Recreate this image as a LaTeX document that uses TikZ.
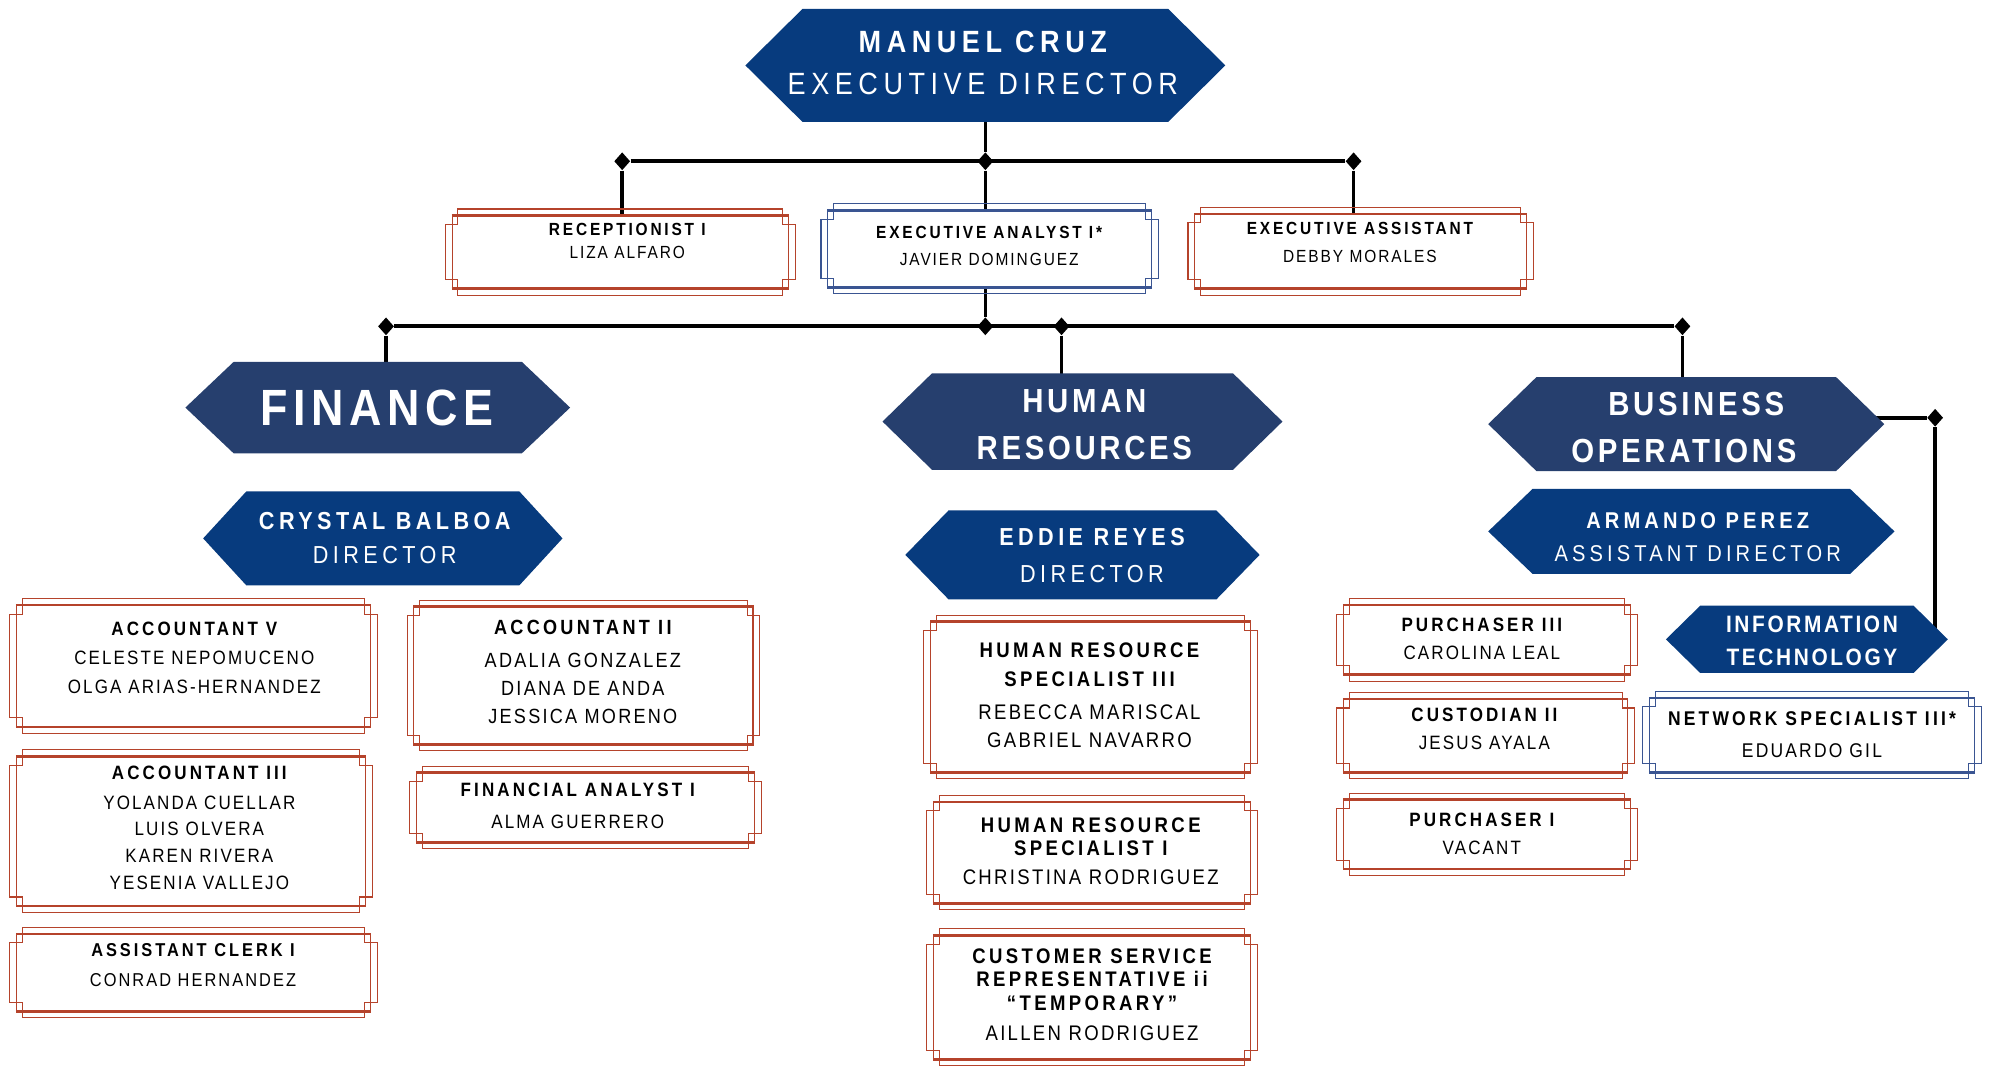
\documentclass[tikz,border=0pt]{standalone}
\usepackage{fontspec}
\setmainfont{Liberation Sans}
\newfontfamily\namefont[FakeStretch=0.88,LetterSpace=11]{Liberation Sans}
\newfontfamily\titlefont[FakeStretch=0.88,LetterSpace=16]{Liberation Sans Bold}
\newfontfamily\hexfont[FakeStretch=0.88,LetterSpace=18]{Liberation Sans}
\newfontfamily\hexbold[FakeStretch=0.88,LetterSpace=18]{Liberation Sans Bold}
\newfontfamily\deptfont[FakeStretch=0.88,LetterSpace=11]{Liberation Sans Bold}
\usetikzlibrary{shapes.geometric, fit, backgrounds}
\definecolor{bred}{HTML}{B5432B}
\definecolor{bblue}{HTML}{3A5592}
\definecolor{deptblue}{HTML}{263F6E}
\definecolor{headblue}{HTML}{073B7E}
\newcommand\ti[1]{{\titlefont #1}}
\newcommand\hb[1]{{\hexbold #1}}
% hexagon: centre x, centre y, half width, half height, point depth, colour
\newcommand\hexa[6]{\fill[#6] ({#1-#3},#2) -- ({#1-#3+#5},{#2-#4}) -- ({#1+#3-#5},{#2-#4}) -- ({#1+#3},#2) -- ({#1+#3-#5},{#2+#4}) -- ({#1-#3+#5},{#2+#4}) -- cycle;}

\begin{document}
\begin{tikzpicture}[x=0.254mm, y=-0.254mm,
    link/.style={line width=2.1pt},
    joint/.style={diamond, fill=black, inner sep=0pt, minimum width=3.2mm, minimum height=3.6mm},
    cardbox/.style={draw=#1, line width=.6pt, inner sep=0pt},
    txt/.style 2 args={font=\namefont\fontsize{#1}{#2}\selectfont, align=center, inner sep=0pt},
    hextxt/.style 2 args={text=white, font=\hexfont\fontsize{#1}{#2}\selectfont, align=center, inner sep=0pt}]
    \useasboundingbox (0,0) rectangle (1568,841);

    % hexagons
    \hexa{776}{51.5}{189}{44.5}{45}{headblue}
    \hexa{297.5}{321}{151.5}{36}{38}{deptblue}
    \hexa{301.5}{424}{141.5}{37}{34}{headblue}
    \hexa{852.5}{332}{157.5}{38}{39}{deptblue}
    \hexa{852.5}{437}{139.5}{35}{34}{headblue}
    \hexa{1328}{334}{156}{37}{38}{deptblue}
    \hexa{1332}{418.5}{160}{33.5}{35}{headblue}
    \hexa{1423}{503.5}{111}{26.5}{27}{headblue}

    \node[hextxt={17.5}{24}] (mc) at (774,49.5) {\hb{MANUEL CRUZ}\\EXECUTIVE DIRECTOR};
    \node[hextxt={29}{30}, font=\deptfont\fontsize{29}{30}\selectfont] (fin) at (297,321) {FINANCE};
    \node[hextxt={14}{19.5}] (cb) at (303,423.5) {\hb{CRYSTAL BALBOA}\\DIRECTOR};
    \node[hextxt={19}{26.8}, font=\deptfont\fontsize{19}{26.8}\selectfont] (hr) at (854,334.5) {HUMAN\\RESOURCES};
    \node[hextxt={14}{21}] (er) at (860,437.5) {\hb{EDDIE REYES}\\DIRECTOR};
    \node[hextxt={19}{26.8}, font=\deptfont\fontsize{19}{26.8}\selectfont] (bo) at (1331,336.5) {\hspace*{7pt}BUSINESS\\OPERATIONS\hspace*{7pt}};
    \node[hextxt={13}{18.8}] (ap) at (1337,423) {\hb{ARMANDO PEREZ}\\ASSISTANT DIRECTOR};
    \node[hextxt={13.5}{18.8}, font=\deptfont\fontsize{13.5}{18.8}\selectfont] (it) at (1427,505) {INFORMATION\\TECHNOLOGY};

    % boxes
    \node[txt={10}{13}] (rec) at (494,190) {\ti{RECEPTIONIST I}\\LIZA ALFARO};
    \node[txt={10}{15.2}] (ana) at (779,193.5) {\ti{EXECUTIVE ANALYST I*}\\JAVIER DOMINGUEZ};
    \node[txt={10}{16}] (ea) at (1071,191) {\ti{EXECUTIVE ASSISTANT}\\DEBBY MORALES};
    \node[txt={11}{16.6}] (a5) at (153,518) {\ti{ACCOUNTANT V}\\CELESTE NEPOMUCENO\\OLGA ARIAS-HERNANDEZ};
    \node[txt={11.7}{15.9}] (a2) at (459,529) {\ti{ACCOUNTANT II}\\[2.9pt]ADALIA GONZALEZ\\DIANA DE ANDA\\JESSICA MORENO};
    \node[txt={11}{15.2}] (a3) at (157,652) {\ti{ACCOUNTANT III}\\[1.5pt]YOLANDA CUELLAR\\LUIS OLVERA\\KAREN RIVERA\\YESENIA VALLEJO};
    \node[txt={11}{18}] (fa) at (455,634.5) {\ti{FINANCIAL ANALYST I}\\ALMA GUERRERO};
    \node[txt={10.6}{17.4}] (ac) at (152,760) {\ti{ASSISTANT CLERK I}\\CONRAD HERNANDEZ};
    \node[txt={12}{16}] (hr3) at (858,547.5) {\ti{HUMAN RESOURCE}\\[.6pt]\ti{SPECIALIST III}\\[2.8pt]REBECCA MARISCAL\\GABRIEL NAVARRO};
    \node[txt={12}{13}] (hr1) at (859,670.5) {\ti{HUMAN RESOURCE}\\\ti{SPECIALIST I}\\[3.6pt]CHRISTINA RODRIGUEZ};
    \node[txt={12}{13.3}] (csr) at (860,783.5) {\ti{CUSTOMER SERVICE}\\\ti{REPRESENTATIVE ii}\\\ti{“TEMPORARY”}\\[4pt]AILLEN RODRIGUEZ};
    \node[txt={11}{16}] (p3) at (1167,503) {\ti{PURCHASER III}\\CAROLINA LEAL};
    \node[txt={11}{16}] (c2) at (1169,574) {\ti{CUSTODIAN II}\\JESUS AYALA};
    \node[txt={11}{16}] (p1) at (1167,657) {\ti{PURCHASER I}\\VACANT};
    \node[txt={11.3}{18}] (ns) at (1427,578.5) {\ti{NETWORK SPECIALIST III*}\\EDUARDO GIL};

    \node[cardbox=bred, fit={(356,170) (621,227)}] (recF) {};
    \node[cardbox=bblue, fit={(652,166) (907,226)}] (anaF) {};
    \node[cardbox=bred, fit={(941,169) (1202,227)}] (eaF) {};
    \node[cardbox=bred, fit={(13,477) (292,572)}] (a5F) {};
    \node[cardbox=bred, fit={(326,478) (593,586)}] (a2F) {};
    \node[cardbox=bred, fit={(13,596) (288,713)}] (a3F) {};
    \node[cardbox=bred, fit={(328,609) (594,663)}] (faF) {};
    \node[cardbox=bred, fit={(13,736) (292,796)}] (acF) {};
    \node[cardbox=bred, fit={(733,490) (985,608)}] (hr3F) {};
    \node[cardbox=bred, fit={(735,632) (985,711)}] (hr1F) {};
    \node[cardbox=bred, fit={(735,737) (985,834)}] (csrF) {};
    \node[cardbox=bred, fit={(1058,477) (1284,531)}] (p3F) {};
    \node[cardbox=bred, fit={(1058,551) (1282,608)}] (c2F) {};
    \node[cardbox=bred, fit={(1058,630) (1284,684)}] (p1F) {};
    \node[cardbox=bblue, fit={(1299,550) (1555,608)}] (nsF) {};

    \foreach \n/\c in {recF/bred, anaF/bblue, eaF/bred, a5F/bred, a2F/bred, a3F/bred, faF/bred, acF/bred,
                       hr3F/bred, hr1F/bred, csrF/bred, p3F/bred, c2F/bred, p1F/bred, nsF/bblue} {
        \draw[\c, line width=1.5pt] (\n.north west) -- (\n.north east) (\n.south west) -- (\n.south east);
        \draw[\c, line width=.6pt] ([shift={(5,-5)}]\n.north west) -- ([shift={(-5,-5)}]\n.north east)
            -- ([shift={(-5,7)}]\n.north east) -- ([shift={(5,7)}]\n.north east)
            -- ([shift={(5,-7)}]\n.south east) -- ([shift={(-5,-7)}]\n.south east)
            -- ([shift={(-5,5)}]\n.south east) -- ([shift={(5,5)}]\n.south west)
            -- ([shift={(5,-7)}]\n.south west) -- ([shift={(-5,-7)}]\n.south west)
            -- ([shift={(-5,7)}]\n.north west) -- ([shift={(5,7)}]\n.north west) -- cycle;
    }

    % junctions
    \node[joint] (j1) at (776,127) {};
    \node[joint] (j1a) at (490,127) {};
    \node[joint] (j1b) at (1066,127) {};
    \node[joint] (j2) at (776,257) {};
    \node[joint] (j2f) at (304,257) {};
    \node[joint] (j2h) at (836,257) {};
    \node[joint] (j2b) at (1325,257) {};
    \node[joint] (j3) at (1524,329) {};

    \begin{pgfonlayer}{background}
        \draw[link] (j1 |- mc) -- (j1);
        \draw[link] (j1a) -- (j1b);
        \draw[link] (j1a) -- (j1a |- recF.north);
        \draw[link] (j1) -- (j1 |- anaF.north);
        \draw[link] (j1b) -- (j1b |- eaF.north);
        \draw[link] (j2 |- anaF.south) -- (j2);
        \draw[link] (j2f) -- (j2b);
        \draw[link] (j2f) -- (j2f |- fin);
        \draw[link] (j2h) -- (j2h |- hr);
        \draw[link] (j2b) -- (j2b |- bo);
        \draw[link] (j3 -| bo) -- (j3) -- (j3 |- it);
    \end{pgfonlayer}
\end{tikzpicture}
\end{document}
